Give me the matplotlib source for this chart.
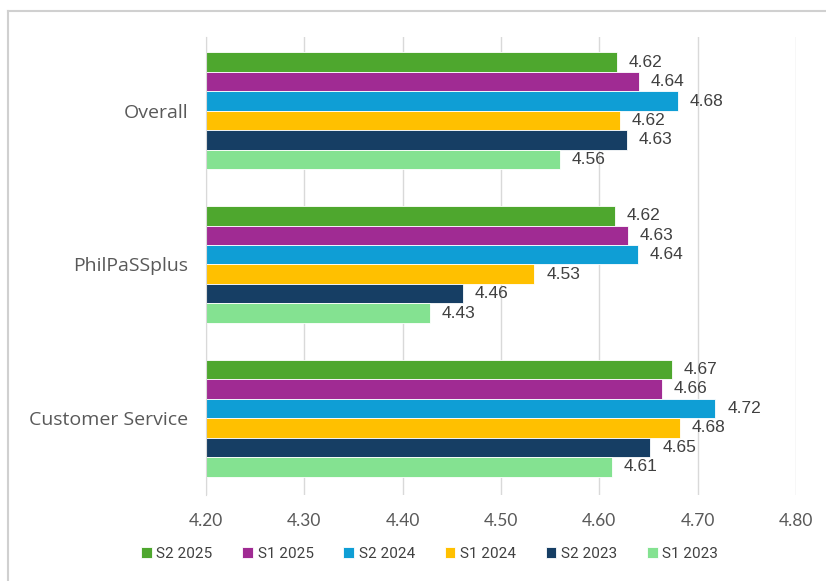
import matplotlib.pyplot as plt
import matplotlib.lines as mlines
import numpy as np

categories = ['Overall', 'PhilPaSSplus', 'Customer Service']
series = ['S2 2025', 'S1 2025', 'S2 2024', 'S1 2024', 'S2 2023', 'S1 2023']
colors = ['#4ea72e', '#a02b93', '#0f9ed5', '#ffc000', '#163e64', '#84e291']

s2_2025 = [4.618, 4.616, 4.674]
s1_2025 = [4.640, 4.629, 4.664]
s2_2024 = [4.680, 4.639, 4.718]
s1_2024 = [4.621, 4.534, 4.682]
s2_2023 = [4.628, 4.461, 4.652]
s1_2023 = [4.560, 4.428, 4.613]
values = [s2_2025, s1_2025, s2_2024, s1_2024, s2_2023, s1_2023]

x_ticks = [4.20, 4.30, 4.40, 4.50, 4.60, 4.70, 4.80]

fig = plt.figure(figsize=(8.26, 5.81), dpi=100)
ax = fig.add_axes([206/826, 1-495/581, 590/826, 458/581])

# outer frame (left and top only are visible)
fig.add_artist(mlines.Line2D([8/826, 8/826], [0, 1-11/581], transform=fig.transFigure,
                             color='#d0d0d0', lw=1.5))
fig.add_artist(mlines.Line2D([8/826, 1], [1-11/581, 1-11/581], transform=fig.transFigure,
                             color='#d0d0d0', lw=1.5))

y = np.arange(len(categories))
h = 0.1266
base = 4.2
for j, (name, vals, c) in enumerate(zip(series, values, colors)):
    pos = y + (j - 2.5) * h
    widths = [v - base for v in vals]
    ax.barh(pos, widths, left=base, height=h, color=c, edgecolor='white',
            linewidth=0.6, label=name, zorder=3)
    for p, v in zip(pos, vals):
        ax.annotate(f'{v:.2f}', (v, p), xytext=(8.5, 0), textcoords='offset points',
                    va='center', ha='left', fontsize=12.5, color='#404040',
                    family='Liberation Sans')

ax.set_xlim(4.2, 4.8)
ax.set_ylim(2.5, -0.48)
ax.set_xticks(x_ticks)
ax.set_xticklabels([f'{t:.2f}' for t in x_ticks], fontsize=12.5, color='#595959',
                   family='Lato')
ax.set_yticks(y)
ax.set_yticklabels(categories, fontsize=14, color='#595959', family='Open Sans')
ax.tick_params(axis='both', length=0)
ax.tick_params(axis='x', pad=13)
ax.tick_params(axis='y', pad=13)
ax.grid(axis='x', color='#d9d9d9', lw=1, zorder=0)
for s in ['top', 'right', 'bottom']:
    ax.spines[s].set_visible(False)
ax.spines['left'].set_color('#d9d9d9')
ax.spines['left'].set_zorder(4)

fig.legend(loc='center', bbox_to_anchor=(0.52, 1-554/581), ncol=6, frameon=False,
           handlelength=0.7, handleheight=0.7, handletextpad=0.3, columnspacing=1.95,
           prop={'family': 'Roboto', 'size': 11}, labelcolor='#404040')

fig.savefig('out.png', dpi=100)
